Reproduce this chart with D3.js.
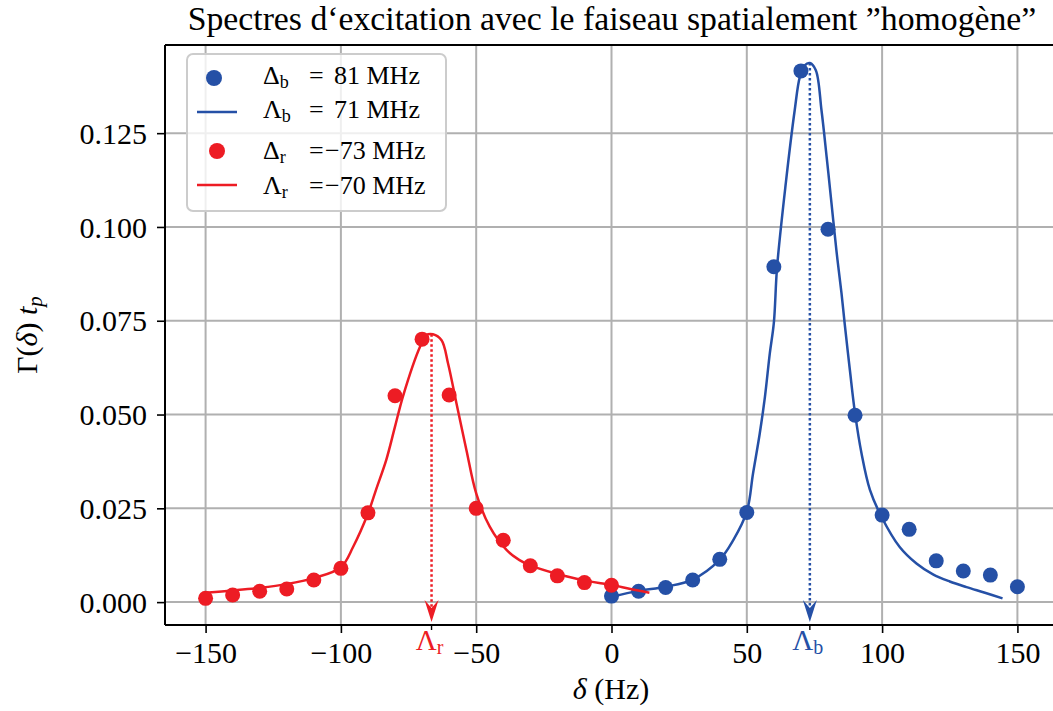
<!DOCTYPE html>
<html>
<head>
<meta charset="utf-8">
<script src="https://cdn.jsdelivr.net/npm/d3@7"></script>
<style>
  body { margin: 0; background: #fff; }
  svg { display: block; font-family: "Liberation Serif", "DejaVu Serif", serif; }
</style>
</head>
<body>
<svg id="chart" width="1053" height="711"></svg>
<script>
const xTicks = [-150, -100, -50, 0, 50, 100, 150]
const yTicks = [0, 0.025, 0.05, 0.075, 0.1, 0.125]

const blueX = [0, 10, 20, 30, 40, 50, 60, 70, 80, 90, 100, 110, 120, 130, 140, 150]
const blueY = [0.0016, 0.0029, 0.0039, 0.0059, 0.0114, 0.0239, 0.0894, 0.1416, 0.0994, 0.0498,
               0.0232, 0.0194, 0.0110, 0.0083, 0.0072, 0.0041]

const redX = [-150, -140, -130, -120, -110, -100, -90, -80, -70, -60, -50, -40, -30, -20, -10, 0]
const redY = [0.0010, 0.0019, 0.0029, 0.0035, 0.0059, 0.0090, 0.0238, 0.0550, 0.0701, 0.0552,
              0.0250, 0.0165, 0.0097, 0.0070, 0.0052, 0.0045]

// fitted curves
const blueFitX = [0, 10, 20, 30, 40, 45, 50, 52.3, 54.8, 56.7, 58.5, 60, 61.2, 64.4, 67.7, 69.6, 71.4,
                  73.3, 75.5, 77.6, 79.5, 81.3, 83.1, 85, 86.2, 88.1, 90, 92.4, 95.5, 99.8, 106.5,
                  112.7, 118.8, 125, 131.2, 138, 144.5]
const blueFitY = [0.0014, 0.0030, 0.0041, 0.0060, 0.0113, 0.0165, 0.0241, 0.0343, 0.0450, 0.0547,
                  0.0663, 0.0745, 0.0894, 0.1116, 0.1311, 0.1400, 0.1431, 0.1437, 0.1418, 0.1311,
                  0.1187, 0.1063, 0.0938, 0.0823, 0.0740, 0.0618, 0.0503, 0.0396, 0.0299, 0.0227,
                  0.0147, 0.0103, 0.0074, 0.0055, 0.0040, 0.0025, 0.0010]

const redFitX = [-150, -140, -130, -120, -110, -100, -95.5, -90, -86.9, -83.2, -80.1, -77, -70.8,
                 -68.4, -66, -62.8, -60.4, -57.3, -53.6, -50, -45, -38.8, -34, -30, -20, -10, -4, 0, 7, 14]
const redFitY = [0.0025, 0.0031, 0.0038, 0.0048, 0.0064, 0.0093, 0.0147, 0.0236, 0.0302, 0.0380,
                 0.0465, 0.0550, 0.0680, 0.0712, 0.0714, 0.0698, 0.0636, 0.0530, 0.0405, 0.0290,
                 0.0201, 0.0139, 0.0112, 0.0098, 0.0075, 0.0058, 0.0050, 0.0046, 0.0035, 0.0025]

// peak markers (Lambda_r, Lambda_b)
const peakX = [-66.5, 73.3]
const peakY = [0.0714, 0.1437]
const peakNames = ["r", "b"]

const legendMain = ["Δ", "Λ", "Δ", "Λ"]
const legendSub = ["b", "b", "r", "r"]
const legendValue = ["81 MHz", "71 MHz", "−73 MHz", "−70 MHz"]

const BLUE = "#2550a6"
const RED = "#ed1c24"
const GRID = "#b0b0b0"

const MARGIN = {left: 165, top: 45, right: 1058, bottom: 625}

let svg = d3.select("#chart")

let xScale = d3.scaleLinear()
  .domain([-165, 165])
  .range([MARGIN.left, MARGIN.right])

let yScale = d3.scaleLinear()
  .domain([-0.0061, 0.1485])
  .range([MARGIN.bottom, MARGIN.top])

// grid
let grid = svg.append("g")
grid.selectAll(".gx").data(xTicks).join("line")
  .attr("x1", d => xScale(d)).attr("x2", d => xScale(d))
  .attr("y1", MARGIN.top).attr("y2", MARGIN.bottom)
  .attr("stroke", GRID).attr("stroke-width", 2)
grid.selectAll(".gy").data(yTicks).join("line")
  .attr("y1", d => yScale(d)).attr("y2", d => yScale(d))
  .attr("x1", MARGIN.left).attr("x2", MARGIN.right)
  .attr("stroke", GRID).attr("stroke-width", 2)

// axes
let fmtX = d => d < 0 ? "−" + Math.abs(d) : String(d)
let xAxis = svg.append("g")
  .attr("transform", `translate(0, ${MARGIN.bottom})`)
  .call(d3.axisBottom(xScale).tickValues(xTicks).tickFormat(fmtX).tickSize(8).tickPadding(10))
let yAxis = svg.append("g")
  .attr("transform", `translate(${MARGIN.left}, 0)`)
  .call(d3.axisLeft(yScale).tickValues(yTicks).tickFormat(d3.format(".3f")).tickSize(8).tickPadding(10))

;[xAxis, yAxis].forEach(ax => {
  ax.select(".domain").remove()
  ax.selectAll(".tick line").attr("stroke", "#000").attr("stroke-width", 1.6)
  ax.selectAll(".tick text").attr("font-size", 30).attr("fill", "#000")
    .style("font-family", "'Liberation Serif', serif")
})
xAxis.selectAll(".tick text").attr("dy", null).attr("y", 38)
yAxis.selectAll(".tick text").attr("dy", "0.34em")

// minor ticks for the peaks with coloured labels
let peakG = svg.append("g")
peakX.forEach((px, i) => {
  let col = i === 0 ? RED : BLUE
  peakG.append("line")
    .attr("x1", xScale(px)).attr("x2", xScale(px))
    .attr("y1", MARGIN.bottom).attr("y2", MARGIN.bottom + 5)
    .attr("stroke", "#000").attr("stroke-width", 1.4)
  let t = peakG.append("text")
    .attr("x", xScale(px) - 2).attr("y", 650)
    .attr("text-anchor", "middle").attr("font-size", 29).attr("fill", col)
  t.append("tspan").text("Λ")
  t.append("tspan").attr("font-size", 20).attr("dy", 4).text(peakNames[i])
})

// fit lines
let line = d3.line().x(d => xScale(d[0])).y(d => yScale(d[1])).curve(d3.curveCatmullRom.alpha(0.5))
let blueFit = blueFitX.map((x, i) => [x, blueFitY[i]])
let redFit = redFitX.map((x, i) => [x, redFitY[i]])

let plot = svg.append("g")
plot.append("path").attr("d", line(blueFit))
  .attr("fill", "none").attr("stroke", BLUE).attr("stroke-width", 2.5)
plot.selectAll(".bdot").data(blueX).join("circle")
  .attr("cx", d => xScale(d)).attr("cy", (d, i) => yScale(blueY[i]))
  .attr("r", 7.5).attr("fill", BLUE)
plot.append("path").attr("d", line(redFit))
  .attr("fill", "none").attr("stroke", RED).attr("stroke-width", 2.5)
plot.selectAll(".rdot").data(redX).join("circle")
  .attr("cx", d => xScale(d)).attr("cy", (d, i) => yScale(redY[i]))
  .attr("r", 7.5).attr("fill", RED)

// dotted arrows from peaks down to the axis
peakX.forEach((px, i) => {
  let col = i === 0 ? RED : BLUE
  let x = xScale(px)
  let tip = yScale(-0.0053)
  plot.append("line")
    .attr("x1", x).attr("x2", x)
    .attr("y1", yScale(peakY[i])).attr("y2", tip - 12)
    .attr("stroke", col).attr("stroke-width", 2.5).attr("stroke-dasharray", "2.5,2.5")
  plot.append("path")
    .attr("d", `M${x},${tip} L${x - 7},${tip - 22} L${x},${tip - 14} L${x + 7},${tip - 22} Z`)
    .attr("fill", col)
})

// spines
svg.append("line").attr("x1", MARGIN.left).attr("x2", MARGIN.left)
  .attr("y1", MARGIN.top).attr("y2", MARGIN.bottom).attr("stroke", "#000").attr("stroke-width", 2)
svg.append("line").attr("x1", MARGIN.left).attr("x2", MARGIN.right)
  .attr("y1", MARGIN.bottom).attr("y2", MARGIN.bottom).attr("stroke", "#000").attr("stroke-width", 2)
svg.append("line").attr("x1", MARGIN.left).attr("x2", MARGIN.right)
  .attr("y1", MARGIN.top).attr("y2", MARGIN.top).attr("stroke", "#000").attr("stroke-width", 2)

// legend
let legend = svg.append("g")
legend.append("rect")
  .attr("x", 187).attr("y", 54).attr("width", 259).attr("height", 157)
  .attr("rx", 6).attr("fill", "#fff").attr("fill-opacity", 0.8)
  .attr("stroke", "#cccccc").attr("stroke-width", 2)
const rowY = [78, 112, 151, 185]
const baseY = [84, 118, 159, 194]
legendMain.forEach((m, i) => {
  let col = i < 2 ? BLUE : RED
  if (i % 2 === 0) {
    legend.append("circle").attr("cx", i === 0 ? 214 : 217).attr("cy", rowY[i]).attr("r", 8).attr("fill", col)
  } else {
    legend.append("line").attr("x1", 197).attr("x2", 237).attr("y1", rowY[i]).attr("y2", rowY[i])
      .attr("stroke", col).attr("stroke-width", 2.5)
  }
  let t = legend.append("text").attr("x", 263).attr("y", baseY[i]).attr("font-size", 26).attr("fill", "#000")
  t.append("tspan").text(m)
  t.append("tspan").attr("font-size", 18).attr("dy", 4).text(legendSub[i])
  legend.append("text").attr("x", 309).attr("y", baseY[i]).attr("font-size", 26).text("=")
  legend.append("text").attr("x", i < 2 ? 334 : 325).attr("y", baseY[i]).attr("font-size", 26)
    .text(legendValue[i])
})

// axis labels
let xl = svg.append("text").attr("x", 611).attr("y", 699)
  .attr("text-anchor", "middle").attr("font-size", 30)
xl.append("tspan").attr("font-style", "italic").text("δ")
xl.append("tspan").text(" (Hz)")

let yl = svg.append("text")
  .attr("transform", "translate(37, 335) rotate(-90)")
  .attr("text-anchor", "middle").attr("font-size", 30)
yl.append("tspan").text("Γ(")
yl.append("tspan").attr("font-style", "italic").text("δ")
yl.append("tspan").text(") ")
yl.append("tspan").attr("font-style", "italic").text("t")
yl.append("tspan").attr("font-style", "italic").attr("font-size", 21).attr("dy", 5).text("p")

// title
let title = svg.append("text").attr("x", 612).attr("y", 30)
  .attr("text-anchor", "middle").attr("font-size", 31)
  .text("Spectres d‘excitation avec le faiseau spatialement ”homogène”")
let w = title.node().getComputedTextLength()
title.attr("font-size", 31 * 849 / w)
</script>
</body>
</html>
